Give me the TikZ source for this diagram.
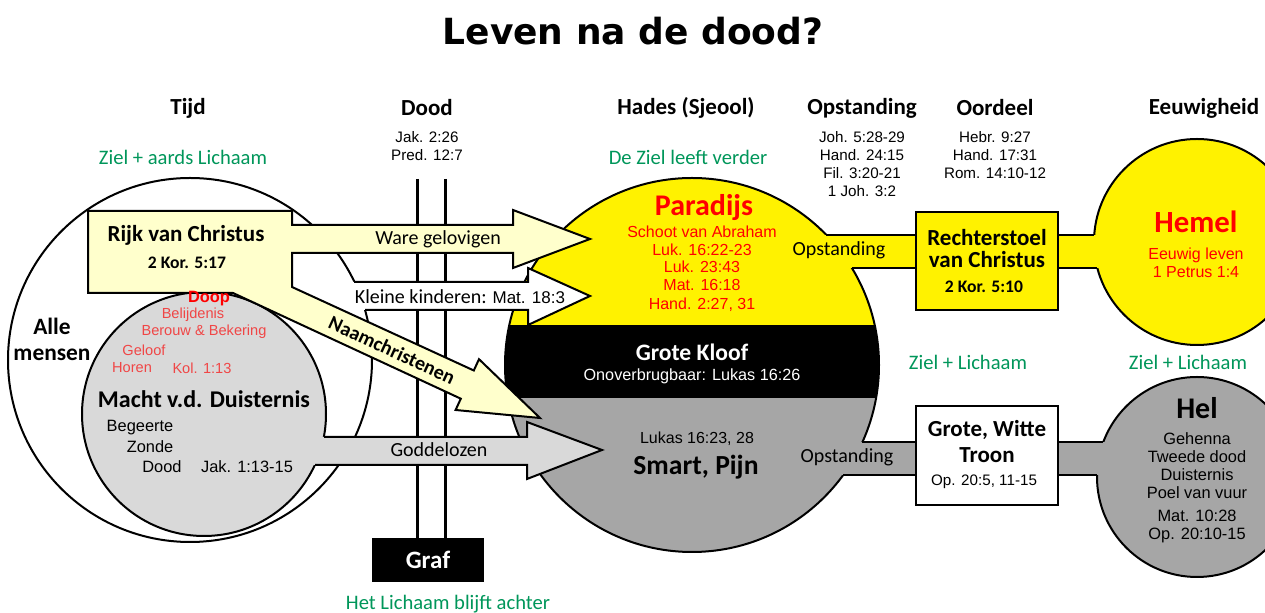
\documentclass[tikz,border=0pt]{standalone}
\usepackage{fontspec}
\setmainfont{Carlito}
\newfontfamily\arialf{Liberation Sans}
\newfontfamily\verdf{DejaVu Sans}
\definecolor{paleyellow}{RGB}{255,255,204}
\definecolor{hadesgrey}{RGB}{166,166,166}
\definecolor{duistergrey}{RGB}{217,217,217}
\definecolor{zielgreen}{RGB}{0,150,90}
\definecolor{lichtrood}{RGB}{240,70,70}

\begin{document}
\begin{tikzpicture}[x=0.5pt,y=-0.5pt,inner sep=0pt,
	outl/.style={draw=black,line width=1pt},
	hdr/.style={font=\bfseries\fontsize{11.5}{13}\selectfont},
	grn/.style={text=zielgreen,font=\fontsize{10.3}{12}\selectfont},
	refs/.style={font=\arialf\fontsize{7.6}{8.9}\selectfont,align=center},
	redref/.style={text=red,font=\arialf\fontsize{8}{9}\selectfont},
	lichtref/.style={text=lichtrood,font=\arialf\fontsize{7.3}{9}\selectfont},
	zwart/.style={font=\arialf\fontsize{8.2}{9}\selectfont},
	bandlbl/.style={font=\fontsize{10}{12}\selectfont},
	boxlbl/.style={font=\bfseries\fontsize{11.5}{13}\selectfont}]
	\useasboundingbox (0,0) rectangle (1265,613);
	\clip (0,0) rectangle (1265,613);
	% left: all people, power of darkness
	\draw[outl,fill=white] (190,360) circle [radius=182];
	\draw[outl,fill=duistergrey] (204,414) circle [radius=122];
	% death lines and grave
	\node[fill=black,minimum width=56pt,minimum height=22pt,text=white,font=\bfseries\fontsize{12.5}{14}\selectfont] (graf) at (428,560) {Graf};
	\coordinate (d1) at (417,179);
	\coordinate (d2) at (445,179);
	\draw[line width=1.5pt] (d1) -- (d1 |- graf.north) (d2) -- (d2 |- graf.north);
	% hades
	\begin{scope}
		\clip (692,365) circle [radius=187];
		\fill[yellow] (500,170) rectangle (890,325);
		\fill[black] (500,325) rectangle (890,398);
		\fill[hadesgrey] (500,398) rectangle (890,560);
	\end{scope}
	\draw[outl] (692,365) circle [radius=187];
	% eternity
	\draw[outl,fill=yellow] (1197,242) circle [radius=103];
	\draw[outl,fill=hadesgrey] (1197,477) circle [radius=100];
	\fill[yellow] (800,235) rectangle (1108,268);
	\draw[outl] (826,235) -- (1094,235) (852,268) -- (1097,268);
	\fill[hadesgrey] (830,442) rectangle (1112,475);
	\draw[outl] (862,442) -- (1103,442) (843,475) -- (1097,475);
	\node[outl,fill=yellow,minimum width=71pt,minimum height=49pt] (rechter) at (987,261) {};
	\node[outl,fill=white,minimum width=71pt,minimum height=49.5pt] (troon) at (987,455.5) {};
	% arrows
	\fill[white] (345,282) -- (528,282) -- (528,268) -- (590,296) -- (528,325) -- (528,310) -- (345,310) -- cycle;
	\draw[outl] (354,282) -- (528,282) -- (528,268) -- (590,296) -- (528,325) -- (528,310) -- (365,310);
	\fill[duistergrey] (305,437) -- (527,437) -- (527,422) -- (602,450) -- (527,479) -- (527,465) -- (305,465) -- cycle;
	\draw[outl] (324,437) -- (527,437) -- (527,422) -- (602,450) -- (527,479) -- (527,465) -- (315,465);
	\draw[outl,fill=paleyellow] (88,211) -- (292,211) -- (292,225) -- (513,225) -- (513,210) -- (590,239) -- (513,268) -- (513,253) -- (292,253) -- (292,287) -- (473.8,370.5) -- (479,359.2) -- (540,418) -- (455.6,410) -- (460.8,398.7) -- (233,293) -- (88,293) -- cycle;

	% title and headers
	\node[font=\verdf\bfseries\fontsize{18}{20}\selectfont] (titel) at (633,31) {Leven na de dood?};
	\node[hdr] (tijd) at (188,108) {Tijd};
	\node[hdr] (dood) at (427,108) {Dood};
	\node[hdr] (hades) at (686,108) {Hades (Sjeool)};
	\node[hdr] (opst) at (862,108) {Opstanding};
	\node[hdr] (oordeel) at (995,108) {Oordeel};
	\node[hdr] (eeuw) at (1204,108) {Eeuwigheid};
	\node[refs] (doodref) at (427,146) {Jak. 2:26\\Pred. 12:7};
	\node[refs] (opstref) at (862,164) {Joh. 5:28-29\\Hand. 24:15\\Fil. 3:20-21\\1 Joh. 3:2};
	\node[refs] (oordref) at (995,155) {Hebr. 9:27\\Hand. 17:31\\Rom. 14:10-12};
	\node[grn] (ziel1) at (183,157) {Ziel + aards Lichaam};
	\node[grn] (ziel2) at (688,157) {De Ziel leeft verder};
	\node[grn] (ziel3) at (968,362) {Ziel + Lichaam};
	\node[grn] (ziel4) at (1188,362) {Ziel + Lichaam};
	\node[grn] (lichaam) at (448,604) {Het Lichaam blijft achter};

	% left texts
	\node[font=\bfseries\fontsize{11.7}{13}\selectfont,align=center] (alle) at (52,339) {Alle\\mensen};
	\node[boxlbl] (rijk) at (186,235) {Rijk van Christus};
	\node[font=\bfseries\fontsize{8.8}{10}\selectfont] (rijkref) at (187,263) {2 Kor. 5:17};
	\node[text=red,font=\arialf\bfseries\fontsize{8.2}{9}\selectfont] (doop) at (209,299) {Doop};
	\node[lichtref] (belijd) at (193,315) {Belijdenis};
	\node[lichtref] (berouw) at (204,332) {Berouw \& Bekering};
	\node[lichtref] (geloof) at (144,350) {Geloof};
	\node[lichtref] (horen) at (132,368) {Horen};
	\node[lichtref] (kol) at (202,368) {Kol. 1:13};
	\node[boxlbl,font=\bfseries\fontsize{12}{13}\selectfont] (macht) at (204,399) {Macht v.d. Duisternis};
	\node[zwart] (begeerte) at (140,428) {Begeerte};
	\node[zwart] (zonde) at (150,447) {Zonde};
	\node[zwart] (doodw) at (162,467) {Dood};
	\node[zwart] (jak) at (247,467) {Jak. 1:13-15};

	% arrow texts
	\node[bandlbl] (ware) at (438,239) {Ware gelovigen};
	\node[bandlbl] (kinderen) at (460,297) {Kleine kinderen:\hspace{3pt}{\arialf\fontsize{8.5}{10}\selectfont Mat. 18:3}};
	\node[bandlbl,font=\bfseries\fontsize{10}{12}\selectfont,rotate=-24.7] (naam) at (392,350) {Naamchristenen};
	\node[bandlbl] (godd) at (439,450) {Goddelozen};

	% hades texts
	\node[text=red,font=\bfseries\fontsize{15}{17}\selectfont] (paradijs) at (704,208) {Paradijs};
	\node[redref] (schoot) at (702,232) {Schoot van Abraham};
	\node[redref] (luk1) at (702,250) {Luk. 16:22-23};
	\node[redref] (luk2) at (702,267) {Luk. 23:43};
	\node[redref] (mat1) at (702,285) {Mat. 16:18};
	\node[redref] (hand) at (702,305) {Hand. 2:27, 31};
	\node[text=white,font=\bfseries\fontsize{11.8}{13}\selectfont] (kloof) at (692,352) {Grote Kloof};
	\node[text=white,font=\arialf\fontsize{8.1}{9}\selectfont] (onover) at (692,376) {Onoverbrugbaar: Lukas 16:26};
	\node[zwart,font=\arialf\fontsize{8}{9}\selectfont] (lukas) at (697,439) {Lukas 16:23, 28};
	\node[font=\bfseries\fontsize{13.8}{15}\selectfont] (smart) at (696,467) {Smart, Pijn};

	% resurrection and judgement
	\node[bandlbl] (opst1) at (839,250) {Opstanding};
	\node[bandlbl] (opst2) at (847,457) {Opstanding};
	\node[boxlbl] (rechter1) at (987,238) {Rechterstoel};
	\node[boxlbl] (rechter2) at (987,260) {van Christus};
	\node[font=\bfseries\fontsize{8.8}{10}\selectfont] (rechterref) at (984,287) {2 Kor. 5:10};
	\node[boxlbl] (troon1) at (987,430) {Grote, Witte};
	\node[boxlbl] (troon2) at (987,455) {Troon};
	\node[refs] (troonref) at (984,482) {Op. 20:5, 11-15};

	% heaven and hell
	\node[text=red,font=\bfseries\fontsize{15.4}{17}\selectfont] (hemel) at (1196,222) {Hemel};
	\node[redref,align=center] (hemelref) at (1196,263) {Eeuwig leven\\1 Petrus 1:4};
	\node[font=\bfseries\fontsize{15}{17}\selectfont] (hel) at (1197,408) {Hel};
	\node[zwart,align=center] (helref) at (1197,466) {Gehenna\\Tweede dood\\Duisternis\\Poel van vuur};
	\node[zwart,align=center] (helref2) at (1197,526) {Mat. 10:28\\Op. 20:10-15};
\end{tikzpicture}
\end{document}
